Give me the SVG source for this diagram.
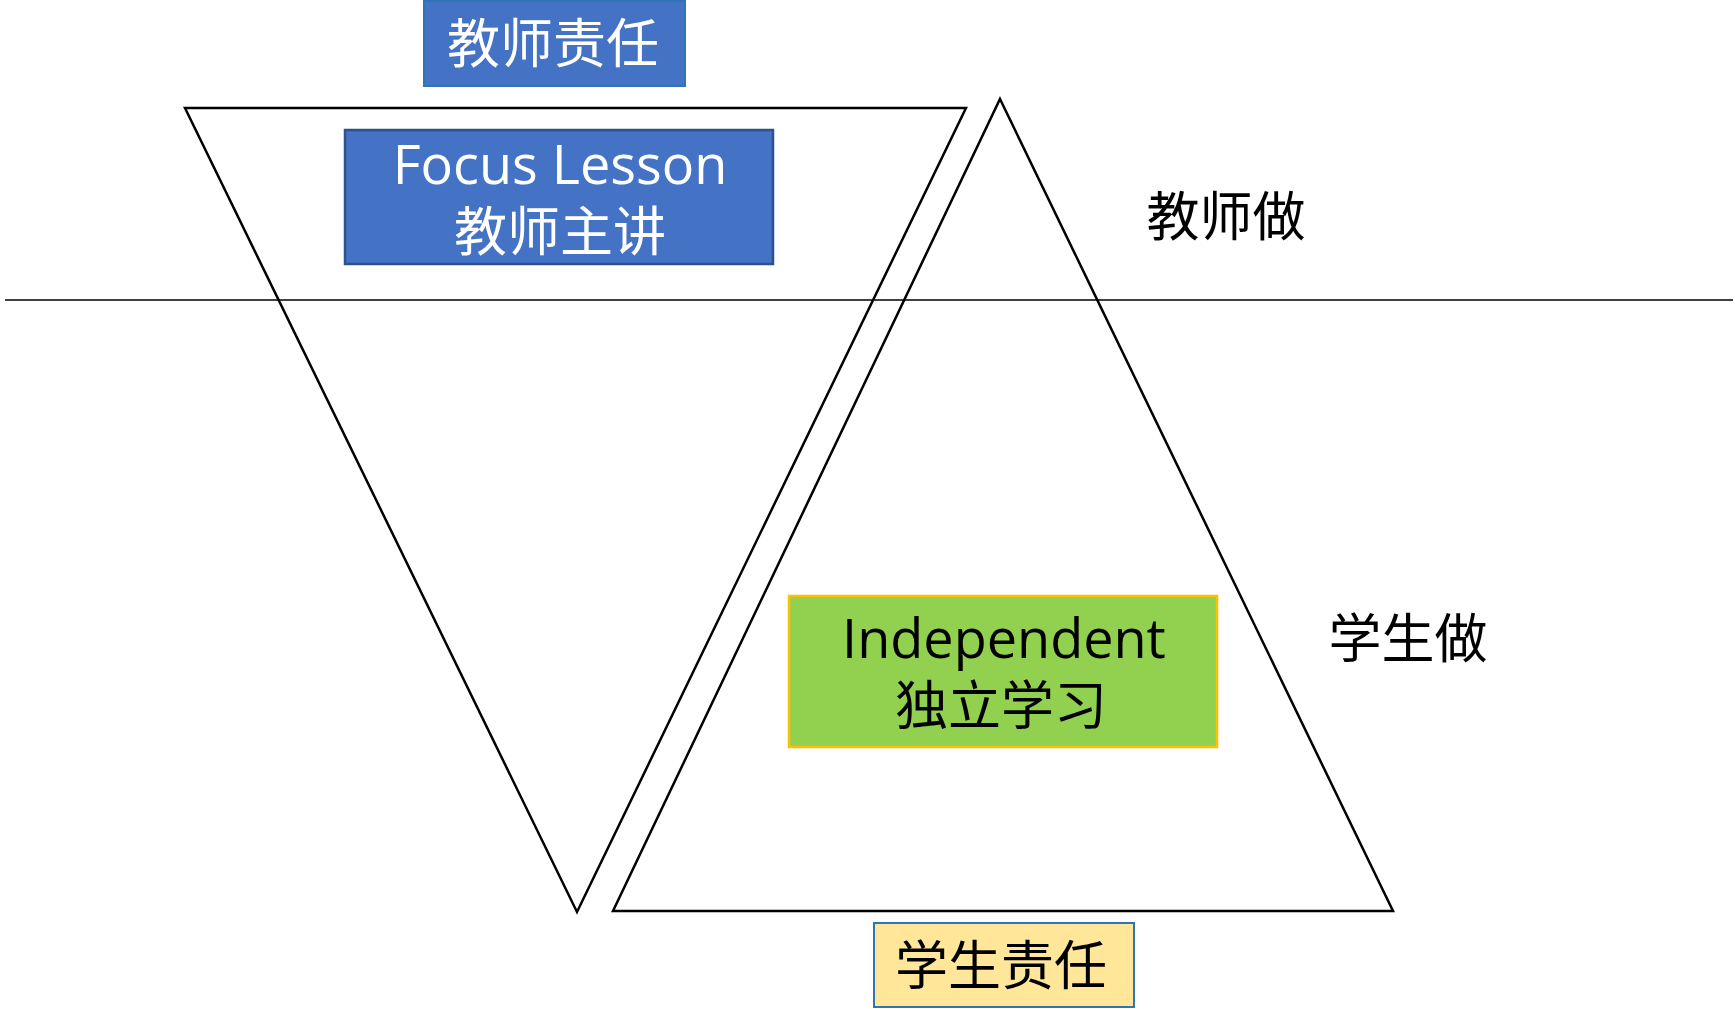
<svg xmlns="http://www.w3.org/2000/svg" width="1735" height="1009" viewBox="0 0 1735 1009">
<style>
.tri{fill:none;stroke:#000;stroke-width:2.5;stroke-linejoin:miter}
.t{font-family:"Open Sans","Noto Sans CJK SC",sans-serif;text-anchor:middle}
.cjk{font-family:"Noto Sans CJK SC",sans-serif;text-anchor:middle}
.w{fill:#fff}
.k{fill:#000}
</style>
<rect width="1735" height="1009" fill="#fff"/>
<g id="connectors">
<line x1="5" y1="300" x2="1733" y2="300" stroke="#404040" stroke-width="2"/>
</g>
<g id="triangle-teacher"><polygon class="tri" points="185,108 966,108 577,912"/></g>
<g id="triangle-student"><polygon class="tri" points="1000,99 1393,911 613,911"/></g>
<g id="teacher-responsibility">
<rect x="424" y="1" width="261" height="85" fill="#4472C4" stroke="#2E75B6" stroke-width="2"/>
<text class="cjk w" x="553" y="63" font-size="53">教师责任</text>
</g>
<g id="focus-lesson">
<rect x="345" y="130" width="428" height="134" fill="#4472C4" stroke="#2F528F" stroke-width="2.5"/>
<text class="t w" x="560" y="184" font-size="54">Focus Lesson</text>
<text class="cjk w" x="560" y="251" font-size="53">教师主讲</text>
</g>
<g id="teacher-does"><text class="cjk k" x="1226" y="236" font-size="53">教师做</text></g>
<g id="student-does"><text class="cjk k" x="1408" y="658" font-size="53">学生做</text></g>
<g id="independent">
<rect x="789" y="596" width="428" height="151" fill="#92D050" stroke="#FFC000" stroke-width="2.5"/>
<text class="t k" x="1004" y="658" font-size="54">Independent</text>
<text class="cjk k" x="1001" y="725" font-size="53">独立学习</text>
</g>
<g id="student-responsibility">
<rect x="874" y="923" width="260" height="84" fill="#FFE699" stroke="#2E75B6" stroke-width="2"/>
<text class="cjk k" x="1001" y="985" font-size="53">学生责任</text>
</g>
</svg>
